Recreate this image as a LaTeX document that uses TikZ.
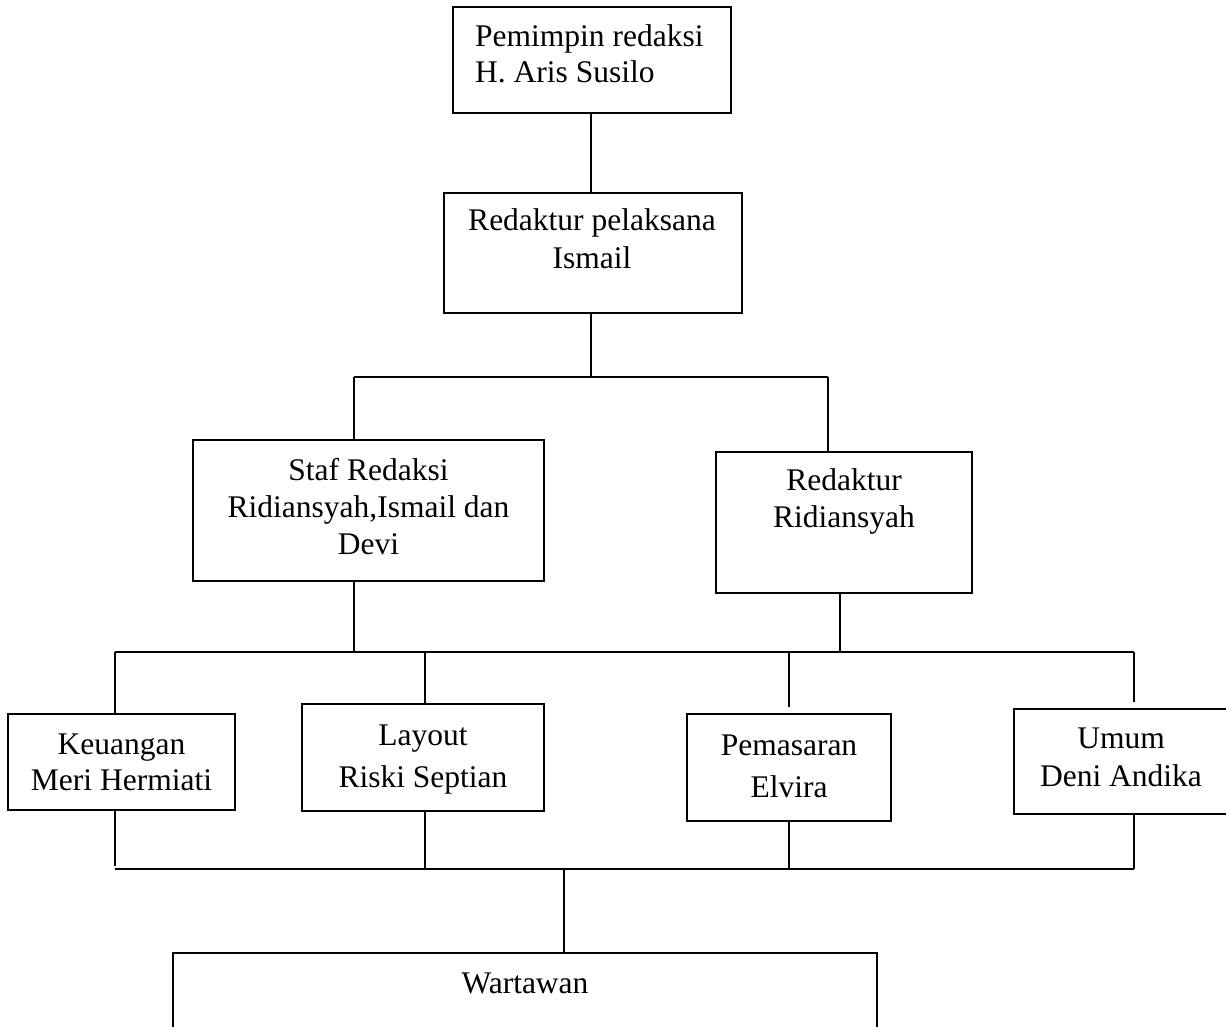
\documentclass[tikz,border=0pt]{standalone}
\usepackage{fontspec}
\setmainfont{Liberation Serif}
\begin{document}
\begin{tikzpicture}[x=1pt,y=-1pt,
  orgbox/.style={draw, line width=1.8pt, rectangle, inner sep=0pt},
  conn/.style={line width=1.5pt},
  txt/.style={font=\fontsize{31.5}{37}\selectfont, anchor=base, inner sep=0pt}]
\useasboundingbox (0,0) rectangle (1226,1027);
\clip (0,0) rectangle (1226,1027);
% boxes
\node[orgbox, minimum width=278pt, minimum height=106pt] (top) at (592,60) {};
\node[orgbox, minimum width=298pt, minimum height=120pt] (rp) at (593,253) {};
\node[orgbox, minimum width=351pt, minimum height=141pt] (staf) at (368.5,510.5) {};
\node[orgbox, minimum width=256pt, minimum height=141pt] (red) at (844,522.5) {};
\node[orgbox, minimum width=227pt, minimum height=96pt] (keu) at (121.5,762) {};
\node[orgbox, minimum width=242pt, minimum height=107pt] (lay) at (423,757.5) {};
\node[orgbox, minimum width=204pt, minimum height=107pt] (pem) at (789,767.5) {};
\node[orgbox, minimum width=226pt, minimum height=105pt] (umum) at (1127,761.5) {};
\node[orgbox, minimum width=704pt, minimum height=107pt] (war) at (525,1006.5) {};
% texts
\node[txt, anchor=base west] (t1a) at (475,47) {Pemimpin redaksi};
\node[txt, anchor=base west] (t1b) at (475,83) {H. Aris Susilo};
\node[txt] (t2a) at (592,231) {Redaktur pelaksana};
\node[txt] (t2b) at (592,268) {Ismail};
\node[txt] (t3a) at (368.5,480) {Staf Redaksi};
\node[txt] (t3b) at (368.5,517) {Ridiansyah,Ismail dan};
\node[txt] (t3c) at (368.5,554) {Devi};
\node[txt] (t4a) at (844,490) {Redaktur};
\node[txt] (t4b) at (844,527) {Ridiansyah};
\node[txt] (t5a) at (121.5,754) {Keuangan};
\node[txt] (t5b) at (121.5,790) {Meri Hermiati};
\node[txt] (t6a) at (423,745) {Layout};
\node[txt] (t6b) at (423,787) {Riski Septian};
\node[txt] (t7a) at (789,755) {Pemasaran};
\node[txt] (t7b) at (789,797) {Elvira};
\node[txt] (t8a) at (1121,748) {Umum};
\node[txt] (t8b) at (1121,786) {Deni Andika};
\node[txt] (t9) at (525,993) {Wartawan};
% junction coordinates
\coordinate (bl) at (354,377);
\coordinate (br) at (828,377);
\coordinate (bc) at (591,377);
\coordinate (ml) at (115,652);
\coordinate (mr) at (1134,652);
\coordinate (lx) at (425,652);
\coordinate (rx) at (840,652);
\coordinate (ll) at (115,869);
\coordinate (lr) at (1134,869);
\coordinate (wx) at (564,869);
% connectors
\draw[conn] (top.south -| bc) -- (rp.north -| bc);
\draw[conn] (rp.south -| bc) -- (bc);
\draw[conn] (bl) -- (br);
\draw[conn] (bl) -- (bl |- staf.north);
\draw[conn] (br) -- (br |- red.north);
\draw[conn] (staf.south -| bl) -- (bl |- ml);
\draw[conn] (red.south -| rx) -- (rx);
\draw[conn] (ml) -- (mr);
\draw[conn] (ml) -- (ml |- keu.north);
\draw[conn] (lx) -- (lx |- lay.north);
\draw[conn] (pem.north |- ml) -- ([yshift=6pt]pem.north);
\draw[conn] (mr) -- ([yshift=6pt]umum.north -| mr);
\draw[conn] (keu.south -| ll) -- ([yshift=3pt]ll);
\draw[conn] (lay.south -| lx) -- (lx |- ll);
\draw[conn] (pem.south) -- (pem.south |- ll);
\draw[conn] (umum.south -| lr) -- (lr);
\draw[conn] (ll) -- (lr);
\draw[conn] (wx) -- (wx |- war.north);
\end{tikzpicture}
\end{document}
